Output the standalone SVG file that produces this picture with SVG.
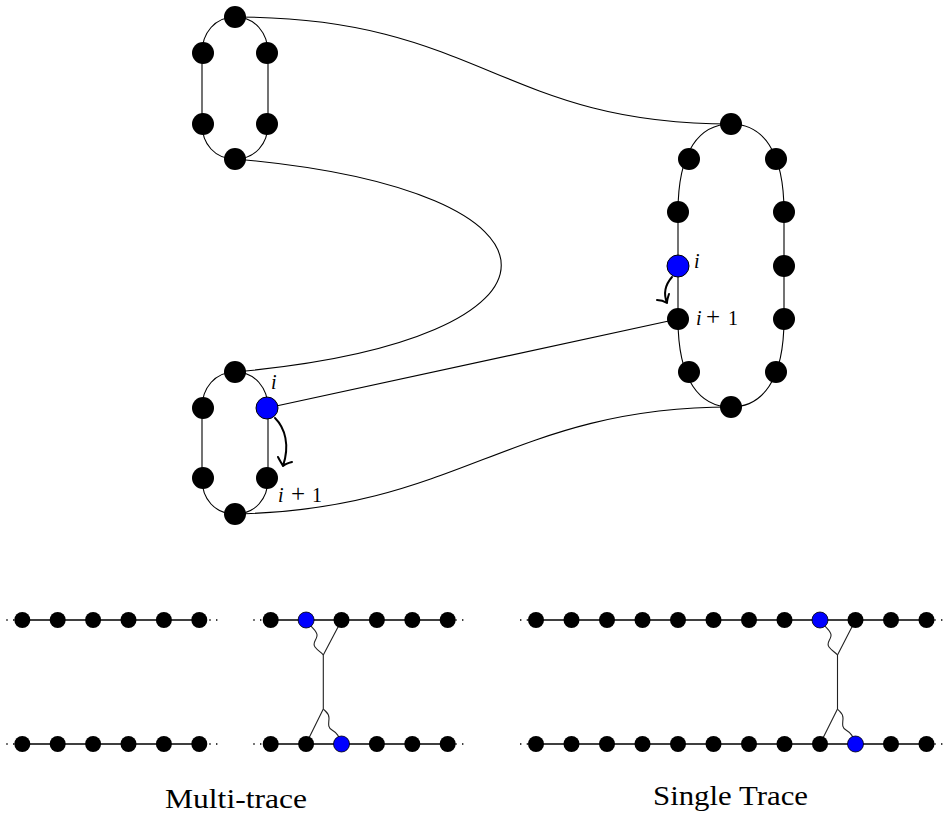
<svg xmlns="http://www.w3.org/2000/svg" width="949" height="818" viewBox="0 0 949 818">
<style>
.loop{fill:none;stroke:#000;stroke-width:1.1}
.con{fill:none;stroke:#000;stroke-width:1.1}
.big{fill:#000}
.bigb{fill:#0000ff;stroke:#000;stroke-width:1}
.sm{fill:#000}
.smb{fill:#0000ff;stroke:#000;stroke-width:0.8}
.row{fill:none;stroke:#000;stroke-width:1.4}
.dots{fill:none;stroke:#000;stroke-width:1.6;stroke-dasharray:1.4 5.3}
.arr{fill:none;stroke:#000;stroke-width:2;stroke-linecap:round}
.lab{font-family:"Liberation Serif","DejaVu Serif",serif;font-size:20px;fill:#000}
.it{font-style:italic}
.pl{font-size:25px}
.cap{font-family:"Liberation Serif","DejaVu Serif",serif;font-size:28px;fill:#000}
.jn{fill:none;stroke:#222;stroke-width:1.1}
</style>
<g id="loops">
<path class="loop" d="M235,17 C215,17 202,33 202,53 L202,124 C202,144 215,159 235,159 C255,159 268,144 268,124 L268,53 C268,33 255,17 235,17 Z"/>
<path class="loop" d="M235,372 C215,372 202,388 202,408 L202,479 C202,499 215,514 235,514 C255,514 268,499 268,479 L268,408 C268,388 255,372 235,372 Z"/>
<path class="loop" d="M678,212 C678,150 700,124 731,124 C762,124 784,150 784,212 L784,319 C784,381 762,407 731,407 C700,407 678,381 678,319 Z"/>
</g>
<g id="connectors">
<path class="con" d="M235,17 C480,17 500,124 731,124"/>
<path class="con" d="M235,159 C590,190 590,340 235,372"/>
<path class="con" d="M267,408 L678,319"/>
<path class="con" d="M235,514 C460,510 510,407 731,407"/>
<path class="arr" d="M275,418 C285,428 290,445 283,466 M278,457 C280,461 282,464 283,466 M292,462 C288,463 285,464 283,466"/>
<path class="arr" d="M672,277 C665,285 663,293 667,303 M657,300 C661,300 664,301 667,303 M669,294 C668,297 667,300 667,303"/>
</g>
<g id="tl-nodes">
<g id="a1"><circle class="big" cx="235" cy="17" r="11"/></g>
<g id="a2"><circle class="big" cx="203" cy="53" r="11"/></g>
<g id="a3"><circle class="big" cx="267" cy="53" r="11"/></g>
<g id="a4"><circle class="big" cx="203" cy="124" r="11"/></g>
<g id="a5"><circle class="big" cx="267" cy="124" r="11"/></g>
<g id="a6"><circle class="big" cx="235" cy="159" r="11"/></g>
</g>
<g id="bl-nodes">
<g id="b1"><circle class="big" cx="235" cy="372" r="11"/></g>
<g id="b2"><circle class="big" cx="203" cy="408" r="11"/></g>
<g id="b3"><circle class="bigb" cx="267" cy="408" r="11"/></g>
<g id="b4"><circle class="big" cx="203" cy="478" r="11"/></g>
<g id="b5"><circle class="big" cx="267" cy="478" r="11"/></g>
<g id="b6"><circle class="big" cx="235" cy="514" r="11"/></g>
</g>
<g id="r-nodes">
<g id="r1"><circle class="big" cx="731" cy="124" r="11"/></g>
<g id="r2"><circle class="big" cx="689" cy="159" r="11"/></g>
<g id="r3"><circle class="big" cx="776" cy="159" r="11"/></g>
<g id="r4"><circle class="big" cx="678" cy="212" r="11"/></g>
<g id="r5"><circle class="big" cx="784" cy="212" r="11"/></g>
<g id="r6"><circle class="bigb" cx="678" cy="266" r="11"/></g>
<g id="r7"><circle class="big" cx="784" cy="266" r="11"/></g>
<g id="r8"><circle class="big" cx="678" cy="319" r="11"/></g>
<g id="r9"><circle class="big" cx="784" cy="319" r="11"/></g>
<g id="r10"><circle class="big" cx="689" cy="372" r="11"/></g>
<g id="r11"><circle class="big" cx="776" cy="372" r="11"/></g>
<g id="r12"><circle class="big" cx="731" cy="407" r="11"/></g>
</g>
<g id="labels-top">
<text class="lab it" x="694" y="268">i</text>
<text class="lab" y="325"><tspan class="it" x="696">i</tspan><tspan class="pl" x="706">+</tspan><tspan x="728">1</tspan></text>
<text class="lab it" x="271" y="389">i</text>
<text class="lab" y="502"><tspan class="it" x="278">i</tspan><tspan class="pl" x="291">+</tspan><tspan x="312">1</tspan></text>
</g>
<g id="multi-trace">
<path class="row" d="M22.3,620 H199.3 M22.3,744 H199.3"/>
<path class="dots" d="M6.3,620 H22 M209.3,620 H219 M6.3,744 H22 M209.3,744 H219"/>
<path class="row" d="M270.7,620 H447.7 M270.7,744 H447.7"/>
<path class="dots" d="M253.3,620 H270 M455.3,620 H465 M253.3,744 H270 M455.3,744 H465"/>
<path class="jn" d="M323.3,655 V709 M323.3,655 L341.7,620 M323.3,709 L306,744"/>
<path class="jn" d="M306,620 C312,629 318,631 317,636 C316,641 312,643 315,647 C318,651 321,652 323.3,655"/>
<path class="jn" d="M323.3,709 C326,712 329,713 329,718 C329,723 327,727 332,730 C337,733 339,736 341.7,744"/>
<g id="m1"><circle class="sm" cx="22.3" cy="620" r="8"/></g>
<g id="m2"><circle class="sm" cx="57.7" cy="620" r="8"/></g>
<g id="m3"><circle class="sm" cx="93.1" cy="620" r="8"/></g>
<g id="m4"><circle class="sm" cx="128.5" cy="620" r="8"/></g>
<g id="m5"><circle class="sm" cx="163.9" cy="620" r="8"/></g>
<g id="m6"><circle class="sm" cx="199.3" cy="620" r="8"/></g>
<g id="m7"><circle class="sm" cx="22.3" cy="744" r="8"/></g>
<g id="m8"><circle class="sm" cx="57.7" cy="744" r="8"/></g>
<g id="m9"><circle class="sm" cx="93.1" cy="744" r="8"/></g>
<g id="m10"><circle class="sm" cx="128.5" cy="744" r="8"/></g>
<g id="m11"><circle class="sm" cx="163.9" cy="744" r="8"/></g>
<g id="m12"><circle class="sm" cx="199.3" cy="744" r="8"/></g>
<g id="p1"><circle class="sm" cx="270.7" cy="620" r="8"/></g>
<g id="p2"><circle class="smb" cx="306.1" cy="620" r="8"/></g>
<g id="p3"><circle class="sm" cx="341.5" cy="620" r="8"/></g>
<g id="p4"><circle class="sm" cx="376.9" cy="620" r="8"/></g>
<g id="p5"><circle class="sm" cx="412.3" cy="620" r="8"/></g>
<g id="p6"><circle class="sm" cx="447.7" cy="620" r="8"/></g>
<g id="p7"><circle class="sm" cx="270.7" cy="744" r="8"/></g>
<g id="p8"><circle class="sm" cx="306.1" cy="744" r="8"/></g>
<g id="p9"><circle class="smb" cx="341.5" cy="744" r="8"/></g>
<g id="p10"><circle class="sm" cx="376.9" cy="744" r="8"/></g>
<g id="p11"><circle class="sm" cx="412.3" cy="744" r="8"/></g>
<g id="p12"><circle class="sm" cx="447.7" cy="744" r="8"/></g>
<text class="cap" x="236" y="808" text-anchor="middle" textLength="142" lengthAdjust="spacingAndGlyphs">Multi-trace</text>
</g>
<g id="single-trace">
<path class="row" d="M536,620 H926.5 M536,744 H926.5"/>
<path class="dots" d="M520,620 H536 M934.3,620 H944 M520,744 H536 M934.3,744 H944"/>
<path class="jn" d="M837.5,655 V709 M837.5,655 L855.5,620 M837.5,709 L820,744"/>
<path class="jn" d="M820,620 C826,629 832,631 831,636 C830,641 826,643 829,647 C832,651 835,652 837.5,655"/>
<path class="jn" d="M837.5,709 C840,712 843,713 843,718 C843,723 841,727 846,730 C851,733 853,736 855.5,744"/>
<g id="s1"><circle class="sm" cx="536" cy="620" r="8"/></g>
<g id="s2"><circle class="sm" cx="571.5" cy="620" r="8"/></g>
<g id="s3"><circle class="sm" cx="607" cy="620" r="8"/></g>
<g id="s4"><circle class="sm" cx="642.5" cy="620" r="8"/></g>
<g id="s5"><circle class="sm" cx="678" cy="620" r="8"/></g>
<g id="s6"><circle class="sm" cx="713.5" cy="620" r="8"/></g>
<g id="s7"><circle class="sm" cx="749" cy="620" r="8"/></g>
<g id="s8"><circle class="sm" cx="784.5" cy="620" r="8"/></g>
<g id="s9"><circle class="smb" cx="820" cy="620" r="8"/></g>
<g id="s10"><circle class="sm" cx="855.5" cy="620" r="8"/></g>
<g id="s11"><circle class="sm" cx="891" cy="620" r="8"/></g>
<g id="s12"><circle class="sm" cx="926.5" cy="620" r="8"/></g>
<g id="t1"><circle class="sm" cx="536" cy="744" r="8"/></g>
<g id="t2"><circle class="sm" cx="571.5" cy="744" r="8"/></g>
<g id="t3"><circle class="sm" cx="607" cy="744" r="8"/></g>
<g id="t4"><circle class="sm" cx="642.5" cy="744" r="8"/></g>
<g id="t5"><circle class="sm" cx="678" cy="744" r="8"/></g>
<g id="t6"><circle class="sm" cx="713.5" cy="744" r="8"/></g>
<g id="t7"><circle class="sm" cx="749" cy="744" r="8"/></g>
<g id="t8"><circle class="sm" cx="784.5" cy="744" r="8"/></g>
<g id="t9"><circle class="sm" cx="820" cy="744" r="8"/></g>
<g id="t10"><circle class="smb" cx="855.5" cy="744" r="8"/></g>
<g id="t11"><circle class="sm" cx="891" cy="744" r="8"/></g>
<g id="t12"><circle class="sm" cx="926.5" cy="744" r="8"/></g>
<text class="cap" x="730.5" y="805" text-anchor="middle" textLength="155" lengthAdjust="spacingAndGlyphs">Single Trace</text>
</g>
</svg>
